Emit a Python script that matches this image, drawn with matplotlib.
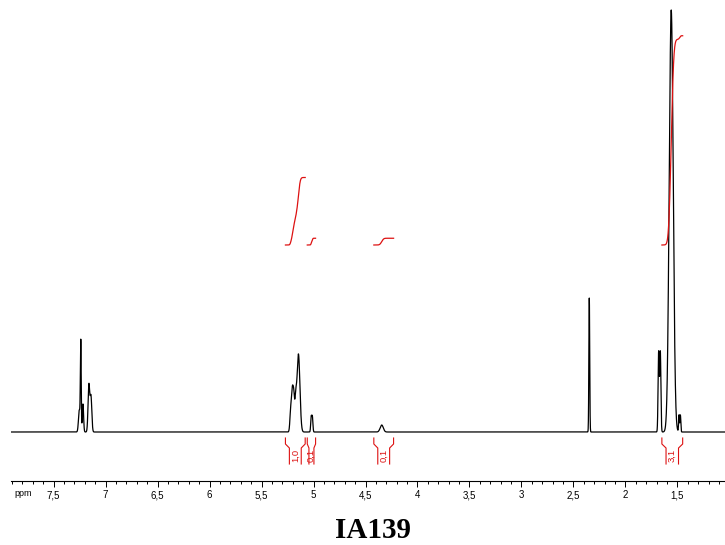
import numpy as np
import matplotlib.pyplot as plt
from matplotlib.ticker import MultipleLocator, FuncFormatter

# peaks: position (ppm), height above baseline, width (ppm)
peak_ppm = [7.252, 7.238, 7.217, 7.160, 7.140,
            5.218, 5.203, 5.190, 5.172, 5.145, 5.022, 5.011,
            4.344, 2.348, 1.681, 1.665, 1.560, 1.485, 1.472]
peak_height = [22, 88, 28, 47, 35,
               24, 36, 34, 28, 78, 15, 15,
               7, 134, 80, 80, 422, 17, 17]
peak_width = [0.008, 0.004, 0.006, 0.008, 0.008,
              0.008, 0.007, 0.007, 0.008, 0.014, 0.005, 0.005,
              0.015, 0.004, 0.0055, 0.0055, 0.019, 0.004, 0.004]

# integral regions
int_start = [5.27, 5.06, 4.42, 1.65]
int_end = [5.08, 4.98, 4.23, 1.45]
int_value = [1.0, 0.1, 0.1, 3.1]
int_labels = ['1,0', '0,1', '0,1', '3,1']

red = '#dd1111'

ppm = np.linspace(7.909, 1.043, 14000)
spec = np.zeros_like(ppm)
for p, h, w in zip(peak_ppm, peak_height, peak_width):
    spec += h * np.exp(-0.5 * ((ppm - p) / w) ** 2)

fig = plt.figure(figsize=(7.25, 5.45), dpi=100)
ax = fig.add_axes([11 / 725, 64 / 545, 714 / 725, 481 / 545])
ax.plot(ppm, spec, color='black', lw=0.9)

# integral curves and brackets
for s, e, v, lab in zip(int_start, int_end, int_value, int_labels):
    m = (ppm <= s) & (ppm >= e)
    c = np.cumsum(spec[m])
    c = c / c[-1] * v * 67.5 + 187
    ax.plot(ppm[m], c, color=red, lw=0.9)
    d = (s - e) * 0.2
    ax.plot([s, s, s - d, s - d], [-6, -12, -16, -32], color=red, lw=0.8)
    ax.plot([e, e, e + d, e + d], [-6, -12, -16, -32], color=red, lw=0.8)
    ax.text((s + e) / 2, -23, lab, rotation=90, color=red, fontsize=6.8,
            ha='center', va='center', family='Liberation Sans')

ax.set_xlim(7.909, 1.043)
ax.set_ylim(-49, 432)
for side in ['left', 'top', 'right']:
    ax.spines[side].set_visible(False)
ax.spines['bottom'].set_linewidth(0.8)
ax.set_yticks([])
ax.xaxis.set_major_locator(MultipleLocator(0.5))
ax.xaxis.set_minor_locator(MultipleLocator(0.1))
ax.xaxis.set_major_formatter(FuncFormatter(lambda v, pos: f'{v:g}'.replace('.', ',')))
ax.tick_params(axis='x', which='major', length=4.2, width=0.7, pad=2.5, labelsize=7)
ax.tick_params(axis='x', which='minor', length=2.3, width=0.7)
for t in ax.get_xticklabels():
    t.set_family('Liberation Sans')

fig.text(23 / 725, 52 / 545, 'ppm', fontsize=6.5, ha='center', va='center', family='Liberation Sans')
fig.text(373 / 725, 15 / 545, 'IA139', fontsize=21, weight='bold', ha='center', va='center',
         family='Liberation Serif')

fig.savefig('out.png', dpi=100)
